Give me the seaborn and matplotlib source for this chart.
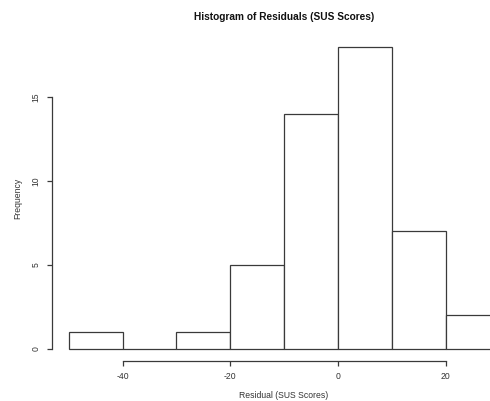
import matplotlib
matplotlib.use("Agg")
import matplotlib.pyplot as plt
import seaborn as sns
import numpy as np

bin_edges = [-50, -40, -30, -20, -10, 0, 10, 20, 30]
counts = [1, 0, 1, 5, 14, 18, 7, 2]
x_ticks = [-40, -20, 0, 20]
y_ticks = [0, 5, 10, 15]

sns.set_style("white")
plt.rcParams['font.family'] = ['Liberation Sans', 'DejaVu Sans']

W, H = 490, 401
fig = plt.figure(figsize=(W / 100, H / 100), dpi=100)
left_px, right_px = 51.5, 517.0
top_px, bot_px = 34.5, 361.1
ax = fig.add_axes([left_px / W, 1 - bot_px / H, (right_px - left_px) / W, (bot_px - top_px) / H])

centers = [(bin_edges[i] + bin_edges[i + 1]) / 2 for i in range(len(counts))]
line_col = '#3a3a3a'
txt_col = '#333333'
sns.histplot(x=centers, weights=counts, bins=bin_edges, ax=ax,
             color='white', edgecolor=line_col, linewidth=0.9, alpha=1)

ax.set_xlim(-53.2, 33.2)
ax.set_ylim(-0.72, 18.72)
ax.set_xticks(x_ticks)
ax.set_xticklabels([str(t) for t in x_ticks])
ax.set_yticks(y_ticks)
ax.set_yticklabels([str(t) for t in y_ticks], rotation=90, va='center')

for s in ['top', 'right']:
    ax.spines[s].set_visible(False)
ax.spines['bottom'].set_bounds(-40, 20)
ax.spines['left'].set_bounds(0, 15)
for s in ['bottom', 'left']:
    ax.spines[s].set_color(line_col)
    ax.spines[s].set_linewidth(0.9)
ax.tick_params(axis='both', direction='out', length=3.5, width=0.9, color=line_col,
               labelsize=6.2, labelcolor=txt_col, bottom=True, left=True, pad=4.4)

ax.set_xlabel('')
ax.set_ylabel('')
fig.text(284 / W, 1 - 396 / H, 'Residual (SUS Scores)', ha='center', va='center',
         fontsize=6.2, color=txt_col)
fig.text(18 / W, 1 - 198 / H, 'Frequency', ha='center', va='center', rotation=90,
         fontsize=6.2, color=txt_col)
fig.text(284 / W, 1 - 17 / H, 'Histogram of Residuals (SUS Scores)', ha='center', va='center',
         fontsize=7.3, fontweight='bold', color='#111111')

fig.savefig('out.png', dpi=100)
